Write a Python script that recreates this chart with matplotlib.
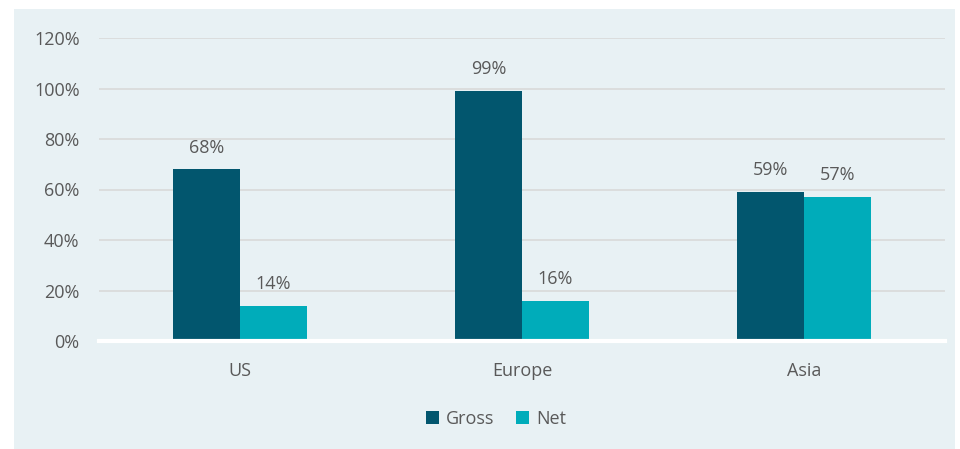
import matplotlib.pyplot as plt
from matplotlib.patches import Rectangle
import numpy as np

# Données
regions = ['US', 'Europe', 'Asia']
gross = [68, 99, 59]
net = [14, 16, 57]

col_gross = '#02566E'
col_net = '#00ACBA'
fond = '#E8F1F4'
texte = '#595959'

plt.rcParams['font.family'] = ['Open Sans', 'DejaVu Sans']

fig = plt.figure(figsize=(9.6, 4.49), dpi=100)
fig.patch.set_facecolor('white')
fig.patches.append(Rectangle((14 / 960, 0), (955 - 14) / 960, (449 - 9) / 449,
                             transform=fig.transFigure, facecolor=fond,
                             edgecolor='none', zorder=-10))

ax = fig.add_axes([99 / 960, (449 - 341) / 449, 846 / 960, (341 - 38) / 449])
ax.set_facecolor('none')

x = np.arange(len(regions))
w = 0.237
b1 = ax.bar(x - w / 2, gross, w, color=col_gross, label='Gross', zorder=3)
b2 = ax.bar(x + w / 2, net, w, color=col_net, label='Net', zorder=3)

for barres in (b1, b2):
    for b in barres:
        h = b.get_height()
        ax.text(b.get_x() + b.get_width() / 2, h + 5, f'{h:.0f}%',
                ha='center', va='bottom', fontsize=13, color=texte)

ax.set_xlim(-0.5, 2.5)
ax.set_ylim(0, 120)
ax.set_yticks(range(0, 121, 20))
ax.set_yticklabels([f'{v}%' for v in range(0, 121, 20)])
ax.set_xticks(x)
ax.set_xticklabels(regions)
ax.tick_params(length=0, labelsize=13, colors=texte)
ax.tick_params(axis='y', pad=14)
ax.tick_params(axis='x', pad=15)
ax.yaxis.grid(True, color='#D9D9D9', linewidth=1.2, zorder=0)
for s in ['top', 'right', 'left']:
    ax.spines[s].set_visible(False)
ax.spines['bottom'].set_color('white')
ax.spines['bottom'].set_linewidth(3)
ax.spines['bottom'].set_zorder(4)

fig.legend(loc='center', bbox_to_anchor=(496 / 960, (449 - 419) / 449),
           ncol=2, frameon=False, fontsize=13, handlelength=0.7,
           handleheight=0.7, handletextpad=0.4, columnspacing=1.2,
           labelcolor=texte)

plt.savefig('out.png', dpi=100)
